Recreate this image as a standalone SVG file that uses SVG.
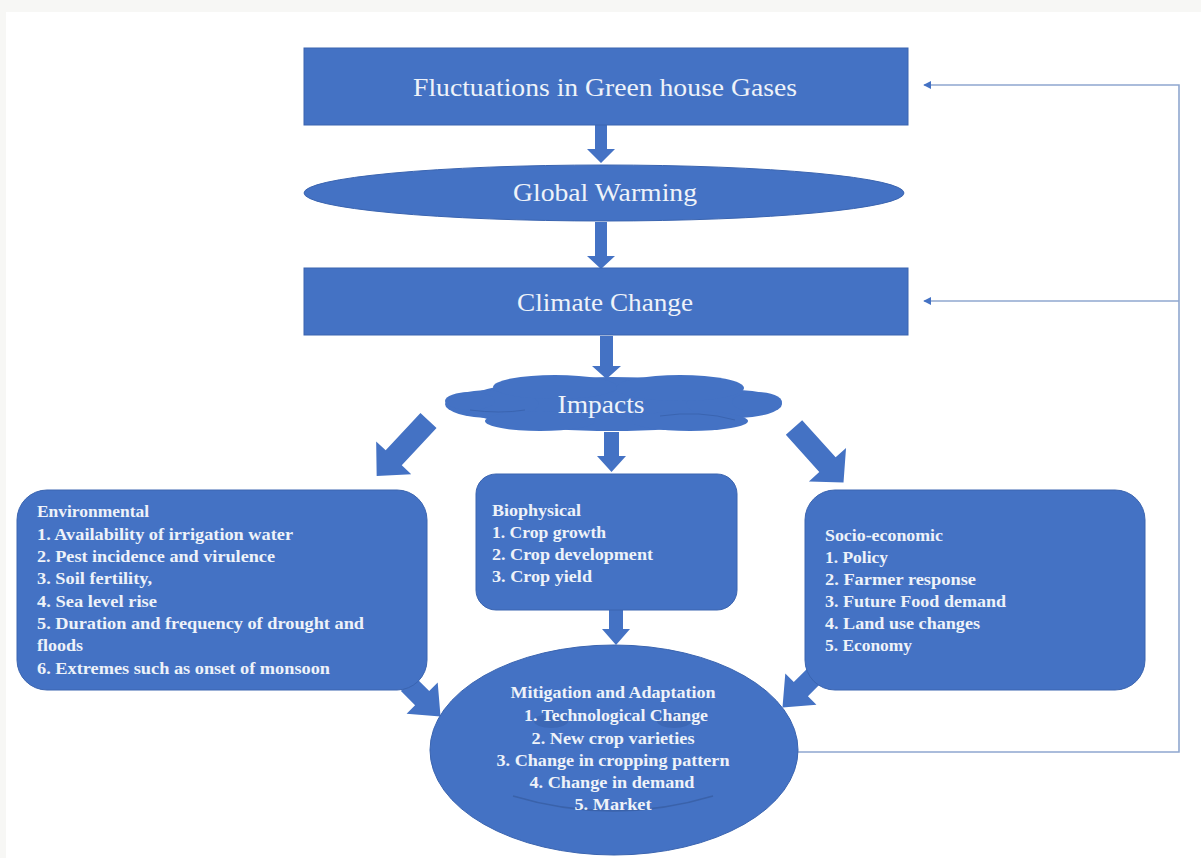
<svg xmlns="http://www.w3.org/2000/svg" width="1201" height="858" viewBox="0 0 1201 858">
<defs>
<style>
.shape{fill:#4472c4;stroke:#3a64b0;stroke-width:1}
.fill{fill:#4472c4}
.t{font-family:"Liberation Serif","Times New Roman",serif;fill:#eef2f9}
.big{font-size:26px;text-anchor:middle}
.b{font-size:16px;font-weight:bold}
.bm{font-size:16px;font-weight:bold;text-anchor:middle}
.fb{fill:none;stroke:#8fa7cf;stroke-width:1.6}
</style>
<marker id="ah" viewBox="0 0 10 10" refX="9" refY="5" markerWidth="8" markerHeight="8" markerUnits="userSpaceOnUse" orient="auto">
<path d="M0,0 L10,5 L0,10 Z" fill="#4472c4"/>
</marker>
</defs>
<rect x="0" y="0" width="1201" height="858" fill="#f7f7f5"/>
<rect x="6" y="12" width="1195" height="846" fill="#ffffff"/>

<g id="connectors">
<path class="fill" d="M595,125 H607 V149 H615 L601,163 L587,149 H595 Z"/>
<path class="fill" d="M595,222 H607 V256 H615 L601,269 L587,256 H595 Z"/>
<path class="fill" d="M600,336 H613 V366 H621 L606.5,379 L592,366 H600 Z"/>
<path class="fill" d="M604,432 H619 V456 H626 L611.5,472 L597,456 H604 Z"/>
<path class="fill" d="M609,610 H623 V629 H630 L616,645 L602,629 H609 Z"/>
<path class="fill" transform="translate(428.5,420.5) rotate(43)" d="M-11,0 H11 V51 H24 L0,76 L-24,51 H-11 Z"/>
<path class="fill" transform="translate(794,427.5) rotate(-42)" d="M-11,0 H11 V50 H25 L0,74 L-25,50 H-11 Z"/>
<path class="fill" transform="translate(408,684) rotate(-45)" d="M-10,0 H10 V20 H22 L0,46 L-22,20 H-10 Z"/>
<path class="fill" transform="translate(815,675) rotate(45)" d="M-10,0 H10 V20 H22 L0,46 L-22,20 H-10 Z"/>
<polyline class="fb" points="797,752 1179,752 1179,85 924,85" marker-end="url(#ah)"/>
<line class="fb" x1="1179" y1="301" x2="924" y2="301" marker-end="url(#ah)"/>
</g>

<g id="n-ghg">
<rect class="shape" x="304" y="48" width="604" height="77"/>
<text class="t big" x="605" y="96" textLength="384" lengthAdjust="spacingAndGlyphs">Fluctuations in Green house Gases</text>
</g>

<g id="n-warming">
<ellipse class="shape" cx="604" cy="193" rx="300" ry="28"/>
<text class="t big" x="605" y="201" textLength="184" lengthAdjust="spacingAndGlyphs">Global Warming</text>
</g>

<g id="n-climate">
<rect class="shape" x="304" y="268" width="604" height="67"/>
<text class="t big" x="605" y="311" textLength="176" lengthAdjust="spacingAndGlyphs">Climate Change</text>
</g>

<g id="n-impacts">
<g class="fill">
<ellipse cx="612" cy="404" rx="150" ry="27"/>
<ellipse cx="492" cy="404" rx="47" ry="14"/>
<ellipse cx="734" cy="404" rx="48" ry="14"/>
<ellipse cx="470" cy="401" rx="25" ry="9"/>
<ellipse cx="757" cy="402" rx="25" ry="10"/>
<ellipse cx="555" cy="387" rx="62" ry="12"/>
<ellipse cx="680" cy="388" rx="64" ry="13"/>
<ellipse cx="540" cy="421" rx="55" ry="10"/>
<ellipse cx="690" cy="421" rx="58" ry="10"/>
</g>
<path d="M660,416 Q700,410 735,420 M470,410 Q500,414 525,410" fill="none" stroke="#3a64b0" stroke-width="1"/>
<text class="t big" x="601" y="413" textLength="87" lengthAdjust="spacingAndGlyphs">Impacts</text>
</g>

<g id="n-environmental">
<rect class="shape" x="17" y="490" width="410" height="200" rx="30"/>
<text class="t b" x="37" y="517" textLength="112" lengthAdjust="spacingAndGlyphs">Environmental</text>
<text class="t b" x="37" y="540" textLength="256" lengthAdjust="spacingAndGlyphs">1. Availability  of irrigation  water</text>
<text class="t b" x="37" y="562" textLength="238" lengthAdjust="spacingAndGlyphs">2. Pest incidence  and virulence</text>
<text class="t b" x="37" y="584" textLength="115" lengthAdjust="spacingAndGlyphs">3. Soil fertility,</text>
<text class="t b" x="37" y="607" textLength="120" lengthAdjust="spacingAndGlyphs">4. Sea level rise</text>
<text class="t b" x="37" y="629" textLength="327" lengthAdjust="spacingAndGlyphs">5. Duration  and  frequency  of drought  and</text>
<text class="t b" x="37" y="651" textLength="46" lengthAdjust="spacingAndGlyphs">floods</text>
<text class="t b" x="37" y="674" textLength="293" lengthAdjust="spacingAndGlyphs">6. Extremes  such  as onset of monsoon</text>
</g>

<g id="n-biophysical">
<rect class="shape" x="476" y="474" width="261" height="136" rx="20"/>
<text class="t b" x="492" y="516" textLength="89" lengthAdjust="spacingAndGlyphs">Biophysical</text>
<text class="t b" x="492" y="538" textLength="114" lengthAdjust="spacingAndGlyphs">1. Crop growth</text>
<text class="t b" x="492" y="560" textLength="161" lengthAdjust="spacingAndGlyphs">2. Crop development</text>
<text class="t b" x="492" y="582" textLength="100" lengthAdjust="spacingAndGlyphs">3. Crop yield</text>
</g>

<g id="n-socio">
<rect class="shape" x="805" y="490" width="340" height="200" rx="30"/>
<text class="t b" x="825" y="541" textLength="118" lengthAdjust="spacingAndGlyphs">Socio-economic</text>
<text class="t b" x="825" y="563" textLength="63" lengthAdjust="spacingAndGlyphs">1. Policy</text>
<text class="t b" x="825" y="585" textLength="151" lengthAdjust="spacingAndGlyphs">2. Farmer  response</text>
<text class="t b" x="825" y="607" textLength="181" lengthAdjust="spacingAndGlyphs">3. Future  Food  demand</text>
<text class="t b" x="825" y="629" textLength="155" lengthAdjust="spacingAndGlyphs">4. Land  use changes</text>
<text class="t b" x="825" y="651" textLength="87" lengthAdjust="spacingAndGlyphs">5. Economy</text>
</g>

<g id="n-mitigation">
<ellipse class="shape" cx="614" cy="750" rx="184" ry="105"/>
<ellipse cx="551" cy="721" rx="17" ry="7" fill="#3d68b6"/>
<ellipse cx="674" cy="721" rx="17" ry="7" fill="#3d68b6"/>
<path d="M513,796 Q613,826 713,796" fill="none" stroke="#3a62aa" stroke-width="1.4"/>
<text class="t bm" x="613" y="698" textLength="205" lengthAdjust="spacingAndGlyphs">Mitigation and Adaptation</text>
<text class="t bm" x="616" y="721" textLength="184" lengthAdjust="spacingAndGlyphs">1. Technological  Change</text>
<text class="t bm" x="613" y="744" textLength="163" lengthAdjust="spacingAndGlyphs">2. New crop  varieties</text>
<text class="t bm" x="613" y="766" textLength="233" lengthAdjust="spacingAndGlyphs">3. Change  in  cropping  pattern</text>
<text class="t bm" x="612" y="788" textLength="165" lengthAdjust="spacingAndGlyphs">4. Change  in  demand</text>
<text class="t bm" x="613" y="810" textLength="77" lengthAdjust="spacingAndGlyphs">5. Market</text>
</g>
</svg>
